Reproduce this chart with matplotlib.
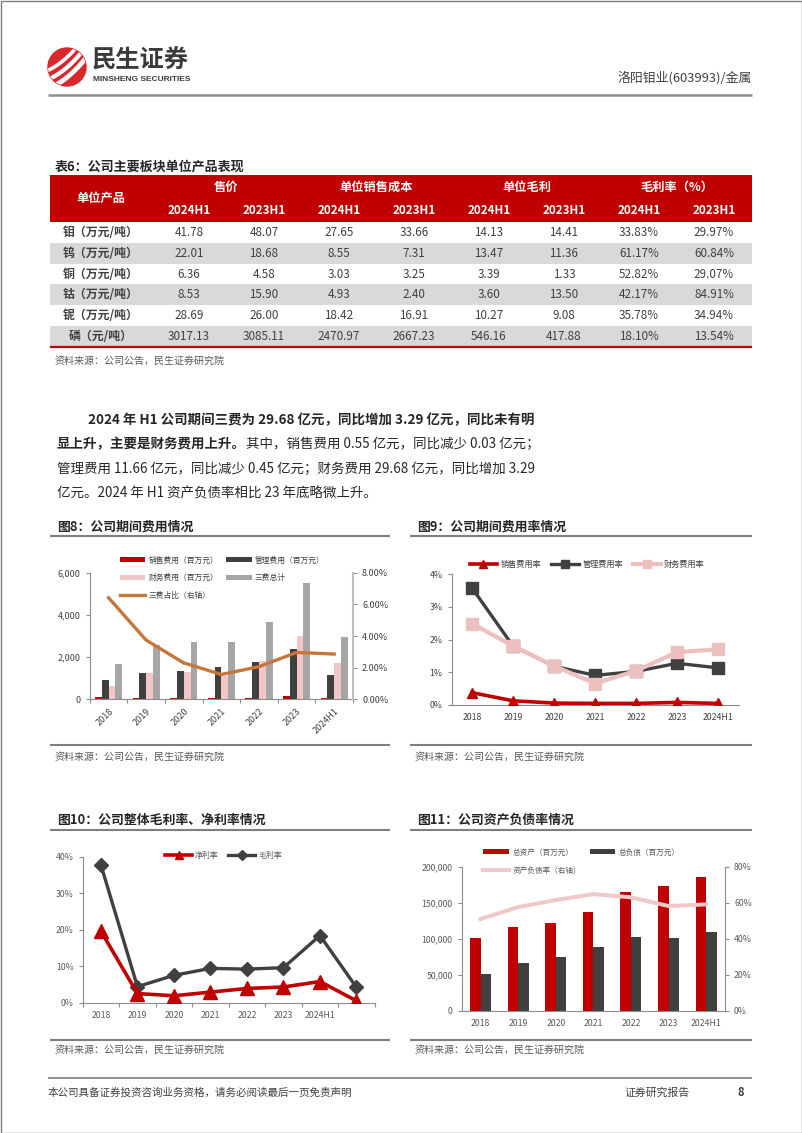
import matplotlib
matplotlib.use('Agg')
import matplotlib.pyplot as plt
import numpy as np
from matplotlib.patches import Rectangle, Circle
from matplotlib.lines import Line2D

plt.rcParams['font.family'] = ['Noto Sans CJK SC', 'DejaVu Sans']
plt.rcParams['axes.unicode_minus'] = False

# ---------------- data ----------------
table_products = ['钼（万元/吨）', '钨（万元/吨）', '铜（万元/吨）', '钴（万元/吨）', '铌（万元/吨）', '磷（元/吨）']
table_groups = ['售价', '单位销售成本', '单位毛利', '毛利率（%）']
table_periods = ['2024H1', '2023H1']
price_2024h1 = [41.78, 22.01, 6.36, 8.53, 28.69, 3017.13]
price_2023h1 = [48.07, 18.68, 4.58, 15.90, 26.00, 3085.11]
cost_2024h1 = [27.65, 8.55, 3.03, 4.93, 18.42, 2470.97]
cost_2023h1 = [33.66, 7.31, 3.25, 2.40, 16.91, 2667.23]
profit_2024h1 = [14.13, 13.47, 3.39, 3.60, 10.27, 546.16]
profit_2023h1 = [14.41, 11.36, 1.33, 13.50, 9.08, 417.88]
margin_2024h1 = [33.83, 61.17, 52.82, 42.17, 35.78, 18.10]
margin_2023h1 = [29.97, 60.84, 29.07, 84.91, 34.94, 13.54]

years = ['2018', '2019', '2020', '2021', '2022', '2023', '2024H1']
# Fig 8 (百万元, %)
sales_exp = [90, 85, 60, 80, 85, 140, 55]
admin_exp = [920, 1230, 1330, 1540, 1760, 2370, 1166]
fin_exp = [620, 1240, 1300, 1100, 1800, 2980, 1730]
total_exp = [1660, 2580, 2700, 2720, 3680, 5520, 2960]
exp_ratio = [6.42, 3.74, 2.30, 1.57, 2.06, 2.96, 2.86]
# Fig 9 (%)
sales_rate = [0.37, 0.12, 0.05, 0.04, 0.04, 0.07, 0.04]
admin_rate = [3.58, 1.80, 1.18, 0.90, 1.02, 1.27, 1.13]
fin_rate = [2.49, 1.80, 1.19, 0.65, 1.04, 1.61, 1.70]
# Fig 10 (%)
years10 = ['2018', '2019', '2020', '2021', '2022', '2023', '2024H1', '']
net_margin = [19.6, 2.5, 1.9, 2.9, 3.9, 4.3, 5.8, 0.5]
gross_margin = [37.7, 4.4, 7.5, 9.4, 9.2, 9.6, 18.4, 4.2]
# Fig 11
total_assets = [101000, 116400, 121900, 136700, 164400, 172700, 185700]
total_liab = [50800, 66500, 74400, 88700, 102500, 100700, 109000]
debt_ratio = [51.0, 57.6, 61.5, 64.8, 63.0, 58.2, 59.1]

# ---------------- page ----------------
W, H = 802, 1133
fig = plt.figure(figsize=(W / 100, H / 100), dpi=100)
bg = fig.add_axes([0, 0, 1, 1])
bg.set_xlim(0, W)
bg.set_ylim(H, 0)
bg.axis('off')
renderer = fig.canvas.get_renderer()

RED = '#C00000'
DARK = '#404040'
PINK = '#F2C6C6'
GREY = '#A6A6A6'
TXT = '#404040'


def px_rect(x0, y0, x1, y1):
    return [x0 / W, 1 - y1 / H, (x1 - x0) / W, (y1 - y0) / H]


def hline(x0, x1, y, color='#7F7F7F', lw=1.2):
    bg.plot([x0, x1], [y, y], color=color, lw=lw, solid_capstyle='butt')


# page border
bg.add_patch(Rectangle((0.5, 0.5), W - 1, H - 1, fill=False, ec='#7F7F7F', lw=1))

# logo
logo = Circle((67, 67), 19, color='#D9272E')
bg.add_patch(logo)
for dx, w in [(-9, 2.6), (-1, 3.0), (7, 3.4)]:
    xs = np.linspace(50, 88, 30)
    ys = 84 - (xs - 50) * 0.9 + dx - 0.012 * (xs - 69) ** 2
    ln, = bg.plot(xs + dx * 0.3, ys, color='white', lw=w, solid_capstyle='round')
    ln.set_clip_path(logo)
bg.text(92, 61, '民生证券', fontsize=17.5, fontweight='bold', color='#3A3A3A', va='center', ha='left')
bg.text(93, 79.5, 'MINSHENG SECURITIES', fontsize=6.0, fontweight='bold', color='#3A3A3A',
        va='center', ha='left', family=['Liberation Sans Narrow', 'Liberation Sans', 'DejaVu Sans'])
bg.text(752, 78, '洛阳钼业(603993)/金属', fontsize=9.3, color=TXT, va='center', ha='right')
hline(48, 752, 95, color='#8C8C8C', lw=1.8)

# ---------------- table ----------------
bg.text(55, 167, '表6：公司主要板块单位产品表现', fontsize=9.4, fontweight='bold', color='#262626',
        va='center', ha='left')
tx0, tcol0, cw = 50, 151.5, 75
hy0, hy1 = 175, 222
rh = 20.83
bg.add_patch(Rectangle((tx0, hy0), 752 - tx0, hy1 - hy0, color=RED, lw=0))
bg.text((tx0 + tcol0) / 2, (hy0 + hy1) / 2, '单位产品', fontsize=8.8, fontweight='bold', color='white',
        va='center', ha='center')
for g, name in enumerate(table_groups):
    gx = tcol0 + cw * (2 * g + 1)
    bg.text(gx, 187, name, fontsize=8.8, fontweight='bold', color='white', va='center', ha='center')
    for p, per in enumerate(table_periods):
        bg.text(tcol0 + cw * (2 * g + p + 0.5), 210.5, per, fontsize=8.4, fontweight='bold',
                color='white', va='center', ha='center')
cols = [price_2024h1, price_2023h1, cost_2024h1, cost_2023h1,
        profit_2024h1, profit_2023h1, margin_2024h1, margin_2023h1]
for r, prod in enumerate(table_products):
    y0 = hy1 + r * rh
    if r % 2 == 1:
        bg.add_patch(Rectangle((tx0, y0), 752 - tx0, rh, color='#D9D9D9', lw=0))
    yc = y0 + rh / 2
    bg.text((tx0 + tcol0) / 2, yc, prod, fontsize=8.6, fontweight='bold', color=TXT,
            va='center', ha='center')
    for c, col in enumerate(cols):
        s = f'{col[r]:.2f}%' if c >= 6 else f'{col[r]:.2f}'
        bg.text(tcol0 + cw * (c + 0.5), yc, s, fontsize=8.4, color=TXT, va='center', ha='center')
hline(tx0, 752, hy1 + 6 * rh, color=RED, lw=1.6)
bg.text(55, 361, '资料来源：公司公告，民生证券研究院', fontsize=7.2, color='#595959', va='center', ha='left')


# ---------------- paragraph ----------------
def draw_runs(x, y, runs, size=9.7):
    for txt, bold in runs:
        t = bg.text(x, y, txt, fontsize=size, fontweight='bold' if bold else 'normal',
                    color='#262626', va='center', ha='left')
        x += t.get_window_extent(renderer=renderer).width


draw_runs(88, 420, [('2024 年 H1 公司期间三费为 29.68 亿元，同比增加 3.29 亿元，同比未有明', True)])
draw_runs(57, 444.5, [('显上升，主要是财务费用上升。', True),
                      ('其中，销售费用 0.55 亿元，同比减少 0.03 亿元；', False)])
draw_runs(57, 469, [('管理费用 11.66 亿元，同比减少 0.45 亿元；财务费用 29.68 亿元，同比增加 3.29', False)])
draw_runs(57, 493.5, [('亿元。2024 年 H1 资产负债率相比 23 年底略微上升。', False)])


# ---------------- chart frames ----------------
def frame(x0, x1, ytitle, yline, ybot, ysrc, title):
    bg.text(x0 + 7, ytitle, title, fontsize=9.3, fontweight='bold', color='#262626', va='center', ha='left')
    hline(x0, x1, yline, color='#7F7F7F', lw=1.5)
    hline(x0, x1, ybot, color='#7F7F7F', lw=1.5)
    bg.text(x0 + 5, ysrc, '资料来源：公司公告，民生证券研究院', fontsize=7.2, color='#595959',
            va='center', ha='left')


frame(50, 390, 527, 536, 745, 756.5, '图8：公司期间费用情况')
frame(410, 752, 527, 536, 745, 756.5, '图9：公司期间费用率情况')
frame(50, 390, 820, 830, 1040, 1049.5, '图10：公司整体毛利率、净利率情况')
frame(410, 752, 820, 830, 1040, 1049.5, '图11：公司资产负债率情况')


def style_axis(ax, color='#404040', spines=('left', 'bottom'), size=6.3):
    for s in ['left', 'right', 'top', 'bottom']:
        ax.spines[s].set_visible(s in spines)
        ax.spines[s].set_color('#8C8C8C')
        ax.spines[s].set_linewidth(0.8)
    ax.tick_params(colors='#8C8C8C', labelcolor=color, labelsize=size, length=3, width=0.8)
    ax.set_facecolor('none')


# ---------------- Fig 8 ----------------
ax8 = fig.add_axes(px_rect(89.7, 572.7, 353, 699.3))
x = np.arange(len(years))
bw = 0.18
b1 = ax8.bar(x - 1.5 * bw, sales_exp, bw, color=RED, label='销售费用（百万元）')
b2 = ax8.bar(x - 0.5 * bw, admin_exp, bw, color=DARK, label='管理费用（百万元）')
b3 = ax8.bar(x + 0.5 * bw, fin_exp, bw, color=PINK, label='财务费用（百万元）')
b4 = ax8.bar(x + 1.5 * bw, total_exp, bw, color=GREY, label='三费总计')
ax8.set_xlim(-0.5, 6.5)
ax8.set_ylim(0, 6000)
ax8.set_yticks([0, 2000, 4000, 6000])
ax8.set_yticklabels(['0', '2,000', '4,000', '6,000'])
ax8.set_xticks(x)
ax8.set_xticklabels(years, rotation=45, ha='right', rotation_mode='anchor')
ax8.set_xticks(np.arange(-0.5, 7, 1), minor=True)
style_axis(ax8, color=TXT, spines=('left', 'bottom'), size=6.5)
ax8.tick_params(axis='x', which='major', length=0, pad=5)
ax8.tick_params(axis='x', which='minor', length=3, color='#8C8C8C', width=0.8)
ax8r = ax8.twinx()
l1, = ax8r.plot(x, exp_ratio, color='#C5773B', lw=2.4, label='三费占比（右轴）')
ax8r.set_ylim(0, 8)
ax8r.set_yticks([0, 2, 4, 6, 8])
ax8r.set_yticklabels([f'{v:.2f}%' for v in [0, 2, 4, 6, 8]])
style_axis(ax8r, color=TXT, spines=('right',), size=6.5)
ax8r.spines['right'].set_color('#BFBFBF')
ax8r.spines['right'].set_linewidth(1.5)
ax8r.set_xlim(-0.5, 6.5)
leg8 = ax8r.legend(handles=[b1, b3, l1, b2, b4], ncol=2, loc='center',
                   bbox_to_anchor=(222 / W, 1 - 578 / H), bbox_transform=fig.transFigure,
                   frameon=False, fontsize=5.6, handlelength=3.3, handleheight=0.6,
                   labelspacing=1.2, columnspacing=1.0, handletextpad=0.4)
for t in leg8.get_texts():
    t.set_color(TXT)

# ---------------- Fig 9 ----------------
ax9 = fig.add_axes(px_rect(451.5, 574.3, 738.5, 704.7))
x = np.arange(len(years))
ax9.plot(x, admin_rate, color=DARK, lw=2.4, marker='s', ms=8.4, zorder=2)
ax9.plot(x, fin_rate, color='#EDBFBF', lw=3, marker='s', ms=9, zorder=3)
ax9.plot(x, sales_rate, color=RED, lw=2.6, marker='^', ms=7.5, zorder=4)
ax9.set_xlim(-0.5, 6.5)
ax9.set_ylim(0, 4)
ax9.set_yticks([0, 1, 2, 3, 4])
ax9.set_yticklabels([f'{v}%' for v in range(5)])
ax9.set_xticks(x)
ax9.set_xticklabels(years)
style_axis(ax9, color=TXT, size=6.3)
ax9.tick_params(axis='x', length=0, pad=6)
h9 = [Line2D([], [], color=RED, lw=2.6, marker='^', ms=5.5),
      Line2D([], [], color=DARK, lw=2.4, marker='s', ms=5.5),
      Line2D([], [], color='#EDBFBF', lw=3, marker='s', ms=6)]
leg9 = ax9.legend(h9, ['销售费用率', '管理费用率', '财务费用率'], ncol=3, loc='center',
                  bbox_to_anchor=(587 / W, 1 - 564 / H), bbox_transform=fig.transFigure,
                  frameon=False, fontsize=5.9, handlelength=3.4, columnspacing=1.2, handletextpad=0.4)
for t in leg9.get_texts():
    t.set_color(TXT)

# ---------------- Fig 10 ----------------
ax10 = fig.add_axes(px_rect(82.7, 856.7, 374.7, 1002.7))
x10 = np.arange(len(years10))
ax10.plot(x10, gross_margin, color=DARK, lw=2.4, marker='D', ms=7, zorder=3)
ax10.plot(x10, net_margin, color=RED, lw=2.6, marker='^', ms=10, zorder=4)
ax10.set_xlim(-0.5, 7.5)
ax10.set_ylim(0, 40)
ax10.set_yticks([0, 10, 20, 30, 40])
ax10.set_yticklabels([f'{v}%' for v in [0, 10, 20, 30, 40]])
ax10.set_xticks(x10)
ax10.set_xticklabels(years10)
ax10.set_xticks(np.arange(-0.5, 8, 1), minor=True)
style_axis(ax10, color='#595959', size=6.3)
ax10.tick_params(axis='x', which='major', length=0, pad=6)
ax10.tick_params(axis='x', which='minor', length=3, color='#8C8C8C', width=0.8)
h10 = [Line2D([], [], color=RED, lw=2.6, marker='^', ms=6),
       Line2D([], [], color=DARK, lw=2.4, marker='D', ms=5)]
leg10 = ax10.legend(h10, ['净利率', '毛利率'], ncol=2, loc='center',
                    bbox_to_anchor=(223.5 / W, 1 - 855 / H), bbox_transform=fig.transFigure,
                    frameon=False, fontsize=5.7, handlelength=3.4, columnspacing=1.2, handletextpad=0.4)
for t in leg10.get_texts():
    t.set_color('#595959')

# ---------------- Fig 11 ----------------
ax11 = fig.add_axes(px_rect(461.7, 866.7, 725, 1011))
x = np.arange(len(years))
bw = 0.28
c1 = ax11.bar(x - bw / 2, total_assets, bw, color=RED, label='总资产（百万元）')
c2 = ax11.bar(x + bw / 2, total_liab, bw, color=DARK, label='总负债（百万元）')
ax11.set_xlim(-0.5, 6.5)
ax11.set_ylim(0, 200000)
ax11.set_yticks([0, 50000, 100000, 150000, 200000])
ax11.set_yticklabels(['0', '50,000', '100,000', '150,000', '200,000'])
ax11.set_xticks(x)
ax11.set_xticklabels(years)
style_axis(ax11, color='#595959', size=6.3)
ax11.tick_params(axis='x', length=0, pad=6)
ax11r = ax11.twinx()
l11, = ax11r.plot(x, debt_ratio, color='#F0C8C8', lw=2.9, label='资产负债率（右轴）')
ax11r.set_ylim(0, 80)
ax11r.set_yticks([0, 20, 40, 60, 80])
ax11r.set_yticklabels([f'{v}%' for v in [0, 20, 40, 60, 80]])
style_axis(ax11r, color='#595959', spines=('right',), size=6.3)
ax11r.set_xlim(-0.5, 6.5)
leg11 = ax11r.legend(handles=[c1, l11, c2], ncol=2, loc='center',
                     bbox_to_anchor=(581.5 / W, 1 - 861.5 / H), bbox_transform=fig.transFigure,
                     frameon=False, fontsize=5.5, handlelength=3.4, handleheight=0.6,
                     labelspacing=1.3, columnspacing=1.1, handletextpad=0.4)
for t in leg11.get_texts():
    t.set_color('#595959')

# ---------------- footer ----------------
hline(48, 752, 1078, color='#7F7F7F', lw=1.2)
bg.text(48, 1093, '本公司具备证券投资咨询业务资格，请务必阅读最后一页免责声明', fontsize=7.6,
        color=TXT, va='center', ha='left')
bg.text(624, 1093, '证券研究报告', fontsize=7.8, color=TXT, va='center', ha='left')
bg.text(741, 1093, '8', fontsize=8, fontweight='bold', color=TXT, va='center', ha='center')

fig.savefig('out.png', dpi=100)
